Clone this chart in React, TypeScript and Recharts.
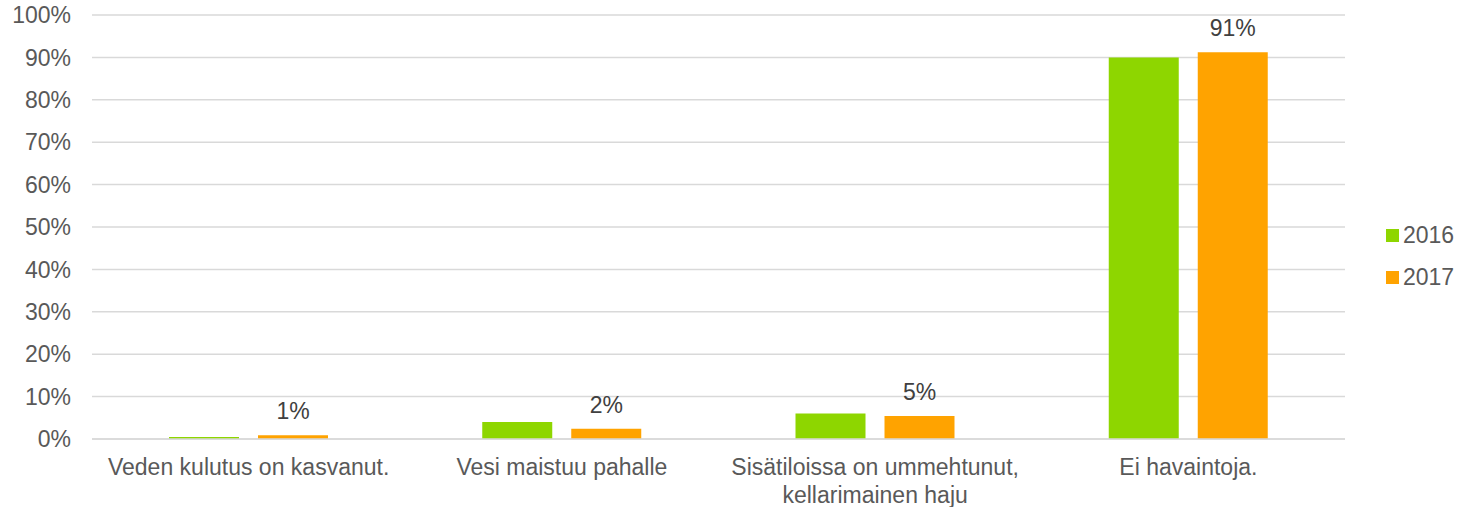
import { Bar, BarChart, CartesianGrid, LabelList, XAxis, YAxis } from "recharts"

const categories = [
  ["Veden kulutus on kasvanut."],
  ["Vesi maistuu pahalle"],
  ["Sisätiloissa on ummehtunut,", "kellarimainen haju"],
  ["Ei havaintoja."],
]
const values2016 = [0.5, 4, 6, 90]
const values2017 = [0.9, 2.4, 5.4, 91.2]
const yTicks = [0, 10, 20, 30, 40, 50, 60, 70, 80, 90, 100]

const series = [
  { key: "y2016", name: "2016", color: "#8ED600" },
  { key: "y2017", name: "2017", color: "#FFA300" },
]

const FONT = "'Liberation Sans', Arial, sans-serif"
const TEXT = "#595959"
const SIZE = 23

const data = categories.map((lines, i) => ({
  name: lines.join(" "),
  y2016: values2016[i],
  y2017: values2017[i],
}))

function CategoryTick({ x, y, index }: any) {
  const lines = categories[index] ?? []
  return (
    <text x={x} y={y} textAnchor="middle" fill={TEXT} fontSize={SIZE} fontFamily={FONT}>
      {lines.map((l, i) => (
        <tspan key={i} x={x} dy={i === 0 ? 30 : 28}>
          {l}
        </tspan>
      ))}
    </text>
  )
}

export default function App() {
  return (
    <div style={{ position: "relative", width: 1460, height: 507, fontFamily: FONT }}>
      <style>{`body{margin:0}`}</style>
      <BarChart
        width={1460}
        height={507}
        data={data}
        margin={{ top: 15, right: 115, left: 0, bottom: 0 }}
        barCategoryGap="24.6%"
        barGap={19}
      >
        <CartesianGrid vertical={false} stroke="#d9d9d9" strokeWidth={1.5} />
        <XAxis
          dataKey="name"
          height={68}
          tickLine={false}
          axisLine={{ stroke: "#d9d9d9", strokeWidth: 1.5 }}
          tickMargin={0}
          interval={0}
          tick={<CategoryTick />}
        />
        <YAxis
          width={92}
          domain={[0, 100]}
          ticks={yTicks}
          tickFormatter={(v: number) => `${v}%`}
          tickLine={false}
          axisLine={false}
          tickMargin={15}
          tick={{ fontSize: SIZE, fill: TEXT, fontFamily: FONT }}
        />
        {series.map((s) => (
          <Bar key={s.key} dataKey={s.key} name={s.name} fill={s.color} barSize={70} isAnimationActive={false}>
            {s.key === "y2017" && (
              <LabelList
                dataKey={s.key}
                position="top"
                offset={16}
                formatter={(v: any) => `${Math.round(Number(v))}%`}
                style={{ fontSize: SIZE, fill: "#404040", fontFamily: FONT }}
              />
            )}
          </Bar>
        ))}
      </BarChart>
      <div style={{ position: "absolute", left: 1386, top: 214, fontSize: SIZE, color: TEXT }}>
        {series.map((s) => (
          <div key={s.key} style={{ display: "flex", alignItems: "center", height: 42 }}>
            <span style={{ width: 13, height: 13, background: s.color, marginRight: 4, display: "inline-block" }} />
            <span>{s.name}</span>
          </div>
        ))}
      </div>
    </div>
  )
}
